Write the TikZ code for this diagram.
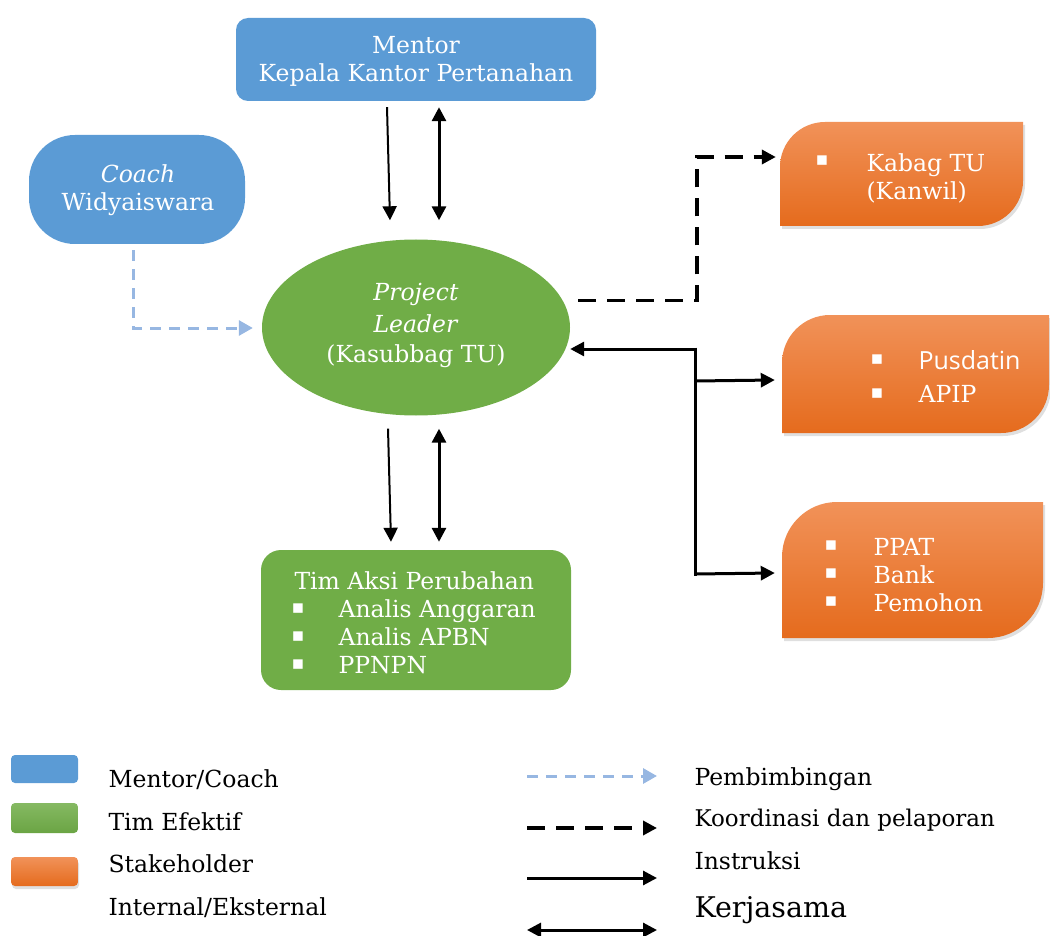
\documentclass[tikz,border=0pt]{standalone}
\usepackage{fontspec}
\setmainfont{DejaVu Serif}
\newfontfamily\sansf{Open Sans}
\newfontfamily\symf{DejaVu Sans}
\usetikzlibrary{arrows.meta,shapes.geometric,calc,shadows}
\definecolor{mblue}{HTML}{5B9BD5}
\definecolor{mgreen}{HTML}{70AD47}
\definecolor{otop}{HTML}{F19259}
\definecolor{omid}{HTML}{F47A2A}
\definecolor{obot}{HTML}{E56B1D}
\definecolor{lblue}{HTML}{97B7E2}
\newcommand{\orshape}[6]{% name x1 y1 x2 y2 r
  \path[drop shadow={opacity=0.25,shadow xshift=2pt,shadow yshift=-3pt},
        top color=otop, middle color=omid, bottom color=obot]
    (#2,#5) -- (#2,#3+#6) .. controls (#2,#3+0.448*#6) and (#2+0.448*#6,#3) .. (#2+#6,#3)
    -- (#4,#3) -- (#4,#5-#6) .. controls (#4,#5-0.448*#6) and (#4-0.448*#6,#5) .. (#4-#6,#5) -- cycle;
  \node[inner sep=0pt, minimum width={(#4-#2)*1pt}, minimum height={(#5-#3)*1pt}] (#1) at ({(#2+#4)/2},{(#3+#5)/2}) {};
}
\begin{document}
\begin{tikzpicture}[x=1pt,y=-1pt,
  font=\fontsize{23.5}{28}\selectfont,
  >={Triangle[length=14pt,width=14pt]},
  wtext/.style={text=white},
  wc/.style={text=white, anchor=base},
  wl/.style={text=white, anchor=base west},
  btext/.style={text=black, anchor=base west},
  bul/.style={text=white, anchor=base west, font=\symf\fontsize{19}{19}\selectfont},
  thinarrow/.style={line width=2pt, ->},
  thickarrow/.style={line width=3pt},
  guide/.style={line width=3pt, draw=lblue, dash pattern=on 11pt off 8pt, -{Triangle[length=14pt,width=15pt]}, color=lblue},
  coord/.style={line width=3.5pt, dash pattern=on 18pt off 11pt, ->},
  instr/.style={line width=3pt, ->},
  kerja/.style={line width=3pt, <->},
]
\useasboundingbox (0,0) rectangle (1050,936);

% main shapes
\node[fill=mblue, rounded corners=12pt, minimum width=360pt, minimum height=83pt, inner sep=0pt] (mentor) at (416,59.5) {};
\node[wc] (mt1) at (416,54) {Mentor};
\node[wc] (mt2) at (416,82) {Kepala Kantor Pertanahan};
\node[fill=mblue, rounded corners=46pt, minimum width=216pt, minimum height=109pt, inner sep=0pt] (coach) at (137,189.5) {};
\node[wc] (ct1) at (138,183) {\textit{Coach}};
\node[wc] (ct2) at (138,211) {Widyaiswara};
\node[fill=mgreen, ellipse, minimum width=308pt, minimum height=176pt, inner sep=0pt] (pl) at (416,327.5) {};
\node[wc] (pt1) at (416,301) {\textit{Project}};
\node[wc] (pt2) at (416,332) {\textit{Leader}};
\node[wc] (pt3) at (416,362) {(Kasubbag TU)};
\node[fill=mgreen, rounded corners=20pt, minimum width=310pt, minimum height=140pt, inner sep=0pt] (tim) at (416,620) {};
\node[wl] (timt) at (291,589) {Tim Aksi Perubahan};
\node[bul] (tb1) at (288,613) {▪};
\node[bul] (tb2) at (288,641) {▪};
\node[bul] (tb3) at (288,669) {▪};
\node[wl] (tt1) at (335,617) {Analis Anggaran};
\node[wl] (tt2) at (335,645) {Analis APBN};
\node[wl] (tt3) at (335,673) {PPNPN};

% stakeholders
\orshape{kab}{780}{122}{1023}{226}{45}
\node[bul] (kb1) at (812,166) {▪};
\node[wl] (kt1) at (863,172) {Kabag TU};
\node[wl] (kt2) at (863,200) {(Kanwil)};

\orshape{pus}{782}{315}{1049}{433}{48}
\node[bul] (pb1) at (867,364) {▪};
\node[bul] (pb2) at (867,398) {▪};
\node[wl, font=\sansf\fontsize{25}{28}\selectfont] (pt4) at (915,369) {Pusdatin};
\node[wl] (pt5) at (915,402) {APIP};

\orshape{ppat}{782}{502}{1043}{638}{55}
\node[bul] (qb1) at (821,550) {▪};
\node[bul] (qb2) at (821,578) {▪};
\node[bul] (qb3) at (821,606) {▪};
\node[wl] (qt1) at (870,555) {PPAT};
\node[wl] (qt2) at (870,583) {Bank};
\node[wl] (qt3) at (870,611) {Pemohon};

% connectors mentor <-> project leader
\draw[thinarrow] ($(mentor.south)+(-29,6)$) -- ($(pl.north)+(-26,-19)$);
\draw[thickarrow, <->] ($(mentor.south)+(23,6)$) -- ($(pl.north)+(23,-19)$);
% project leader <-> tim
\draw[thinarrow] ($(pl.south)+(-28,13)$) -- ($(tim.north)+(-25,-8)$);
\draw[thickarrow, <->] ($(pl.south)+(23,13)$) -- ($(tim.north)+(23,-8)$);
% coach -> project leader
\draw[guide] ($(coach.south)+(-4,6)$) |- ($(pl.west)+(-9,0.5)$);
% coordination to kabag
\draw[coord] ($(pl.east)+(8,-27)$) -- ++(119,0) |- ($(kab.west)+(-4,-17)$);
% instruction / cooperation
\coordinate (jA) at (695,349);
\coordinate (jB) at (695,381);
\coordinate (jC) at (695,574);
\draw[instr] (jA) -- ($(pl.east)+(0,21.5)$);
\draw[line width=3pt, line join=miter] ($(jA)+(0,-1.5)$) -- (jC) -- ++(1.5,0);
\draw[instr] (jB) -- ($(pus.west)+(-7,6)$);
\draw[instr] (jC) -- ($(ppat.west)+(-7,3)$);

% legend left
\node[fill=mblue, rounded corners=4pt, minimum width=67pt, minimum height=28pt, inner sep=0pt] (lg1) at (44.5,769) {};
\node[rounded corners=4pt, minimum width=67pt, minimum height=30pt, inner sep=0pt,
      top color=mgreen!85!white, bottom color=mgreen!95!black] (lg2) at (44.5,818) {};
\node[rounded corners=4pt, minimum width=67pt, minimum height=29pt, inner sep=0pt,
      top color=otop, bottom color=obot, drop shadow={opacity=0.25,shadow xshift=1pt,shadow yshift=-3pt}] (lg3) at (44.5,871.5) {};
\node[btext] (lt1) at (105,787) {Mentor/Coach};
\node[btext] (lt2) at (105,830) {Tim Efektif};
\node[btext] (lt3) at (105,872) {Stakeholder};
\node[btext] (lt4) at (105,915) {Internal/Eksternal};

% legend right
\coordinate (a1) at (527,776);
\coordinate (a1e) at (657,776);
\coordinate (a2) at (527,828);
\coordinate (a2e) at (657,828);
\coordinate (a3) at (527,878);
\coordinate (a3e) at (657,878);
\coordinate (a4) at (527,930);
\coordinate (a4e) at (657,930);
\draw[guide] (a1) -- (a1e);
\draw[coord] (a2) -- (a2e);
\draw[instr] (a3) -- (a3e);
\draw[kerja] (a4) -- (a4e);
\node[btext] (rt1) at (691,785) {Pembimbingan};
\node[btext, font=\fontsize{23}{28}\selectfont] (rt2) at (691,826) {Koordinasi dan pelaporan};
\node[btext] (rt3) at (691,869) {Instruksi};
\node[btext, font=\fontsize{28.5}{32}\selectfont] (rt4) at (691,917) {Kerjasama};
\end{tikzpicture}
\end{document}
